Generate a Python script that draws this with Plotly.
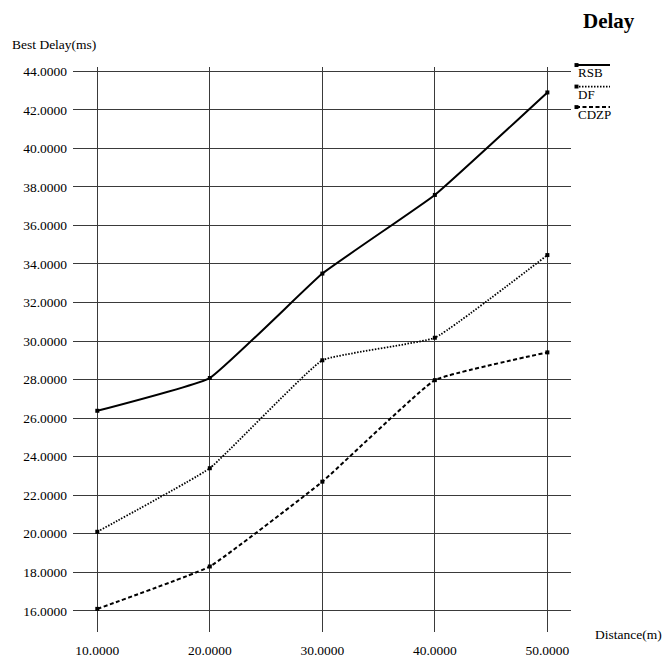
import plotly.graph_objects as go

# Distance (m) on the x axis, best delay (ms) per scheme
distance = [10, 20, 30, 40, 50]
rsb = [26.38, 28.08, 33.5, 37.58, 42.9]
df = [20.1, 23.4, 29.0, 30.17, 34.46]
cdzp = [16.1, 18.3, 22.7, 27.97, 29.41]

x_ticks = [10, 20, 30, 40, 50]
y_ticks = [16, 18, 20, 22, 24, 26, 28, 30, 32, 34, 36, 38, 40, 42, 44]

series = [
    ("RSB", rsb, "solid", 2.0),
    ("DF", df, "1.5px,1.5px", 1.8),
    ("CDZP", cdzp, "4px,2.5px", 2.0),
]

W, H = 665, 670
ML, MR, MT, MB = 73, 94, 67, 25
PW, PH = W - ML - MR, H - MT - MB

FONT = "Liberation Serif"
GRID = "#3a3a3a"


def px(x):
    return (x - ML) / PW


def py(y):
    return (H - MB - y) / PH


fig = go.Figure()
for name, vals, dash, width in series:
    fig.add_trace(go.Scatter(
        x=distance, y=vals, name=name, mode="lines+markers",
        line=dict(color="black", dash=dash, width=width, shape="spline", smoothing=0.3),
        marker=dict(symbol="square", size=4, color="black"),
        showlegend=False,
    ))

# Legend drawn as line samples with the label underneath
legend_rows = [65, 87, 108]
for (name, _, dash, width), ly in zip(series, legend_rows):
    fig.add_shape(type="line", xref="paper", yref="paper",
                  x0=px(576), x1=px(610), y0=py(ly), y1=py(ly),
                  line=dict(color="black", dash=dash, width=width))
    fig.add_shape(type="rect", xref="paper", yref="paper",
                  x0=px(574.5), x1=px(578.5), y0=py(ly - 2), y1=py(ly + 2),
                  line=dict(width=0), fillcolor="black")
    fig.add_annotation(text=name, xref="paper", yref="paper",
                       x=px(576), y=py(ly + 8), xanchor="left", yanchor="middle",
                       showarrow=False, font=dict(family=FONT, size=13, color="black"))

fig.add_annotation(text="<b>Delay</b>", xref="paper", yref="paper",
                   x=px(609), y=py(20), xanchor="center", yanchor="middle",
                   showarrow=False, font=dict(family=FONT, size=21, color="black"))
fig.add_annotation(text="Best Delay(ms)", xref="paper", yref="paper",
                   x=px(10), y=py(44), xanchor="left", yanchor="middle",
                   showarrow=False, font=dict(family=FONT, size=13.5, color="black"))
fig.add_annotation(text="Distance(m)", xref="paper", yref="paper",
                   x=px(664), y=py(648), xanchor="right", yanchor="middle",
                   showarrow=False, font=dict(family=FONT, size=13.5, color="black"))

fig.update_layout(
    width=W, height=H,
    margin=dict(l=ML, r=MR, t=MT, b=MB),
    paper_bgcolor="white", plot_bgcolor="white",
    font=dict(family=FONT, size=13.5, color="black"),
    showlegend=False,
)
fig.update_xaxes(
    range=[7.84, 52.1], tickvals=x_ticks, tickformat=".4f",
    showgrid=True, gridcolor=GRID, gridwidth=1,
    zeroline=False, showline=False, ticks="", ticklabelstandoff=8,
)
fig.update_yaxes(
    range=[14.9, 44.22], tickvals=y_ticks, tickformat=".4f",
    showgrid=True, gridcolor=GRID, gridwidth=1,
    zeroline=False, showline=False, ticks="", ticklabelstandoff=5,
)

fig.write_html("out.html")
